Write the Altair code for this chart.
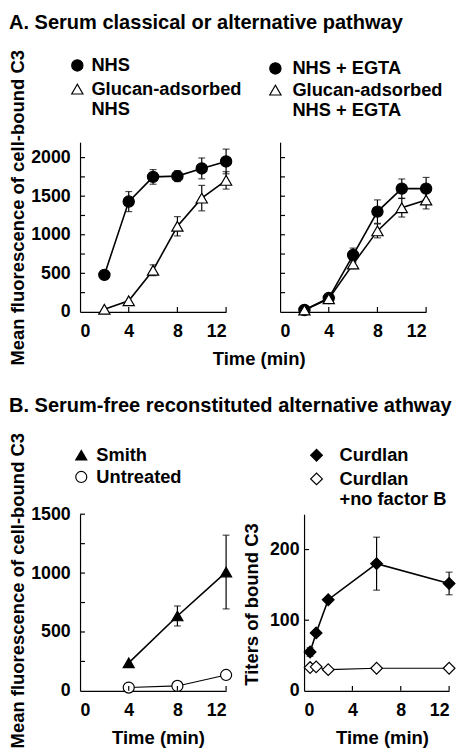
import altair as alt
import pandas as pd

FONT = "Liberation Sans"

# ---------------- data ----------------
# A. serum classical or alternative pathway
time_a = [2, 4, 6, 8, 10, 12]
nhs = [480, 1430, 1750, 1760, 1860, 1950]
nhs_err = [50, 130, 95, 70, 135, 160]
gad_nhs = [35, 145, 540, 1110, 1475, 1705]
gad_nhs_err = [0, 0, 70, 125, 165, 113]
nhs_egta = [25, 180, 737, 1300, 1598, 1598]
nhs_egta_err = [0, 25, 90, 152, 125, 145]
gad_egta = [25, 170, 620, 1050, 1350, 1450]
gad_egta_err = [0, 0, 60, 90, 120, 115]

# B. serum-free reconstituted alternative pathway
time_b = [4, 8, 12]
smith = [238, 636, 1009]
smith_err = [0, 85, 313]
untreated = [28, 42, 135]
untreated_err = [0, 0, 0]

time_c = [0.5, 1, 2, 6, 12]
curdlan = [55, 82, 129, 180, 152]
curdlan_err = [6, 0, 0, 37.5, 16]
curdlan_nofb = [33, 34, 30, 32, 32]
curdlan_nofb_err = [0, 0, 0, 0, 0]

names_a1 = ["NHS", "Glucan-adsorbed\nNHS"]
names_a2 = ["NHS + EGTA", "Glucan-adsorbed\nNHS + EGTA"]
names_b1 = ["Smith", "Untreated"]
names_b2 = ["Curdlan", "Curdlan\n+no factor B"]

time_ticks = [4, 8, 12]
time_labels = [0, 4, 8, 12]
a_yticks = [250, 500, 750, 1000, 1250, 1500, 1750, 2000]
a_ylabels = [0, 500, 1000, 1500, 2000]
b1_yticks = [250, 500, 750, 1000, 1250, 1500]
b1_ylabels = [0, 500, 1000, 1500]
b2_yticks = [100, 200]
b2_ylabels = [0, 100, 200]

YTITLE = "Mean fluorescence of cell-bound C3"


def frame(times, series):
    rows = []
    for name, vals, errs in series:
        for t, v, e in zip(times, vals, errs):
            rows.append(dict(time=t, value=v, err=e, lo=v - e, hi=v + e, series=name))
    return pd.DataFrame(rows)


def panel(df, names, shapes, fills, widths, ydom, ylabels, yticks, width, height,
          legend_x, legend_y, label_offset, row_pad, sym_size,
          ytitle=None, ytitle_x=-63, ytitle_y=60, show_ylabels=True, ylabel_pad=10,
          xtitle=None, xtitle_x=74, xtitle_y=47):
    xs = alt.Scale(domain=[0, 12], nice=False, zero=False)
    ys = alt.Scale(domain=ydom, nice=False, zero=False)
    xkw = dict(values=time_labels, format="d", ticks=False, grid=False,
               labelPadding=20, labelBaseline="middle", title=xtitle)
    if xtitle:
        xkw.update(titleX=xtitle_x, titleY=xtitle_y, titleAlign="center",
                   titleBaseline="middle")
    xaxis = alt.Axis(**xkw)
    ykw = dict(values=ylabels, format="d", ticks=False, grid=False,
               labels=show_ylabels, labelPadding=ylabel_pad, title=ytitle)
    if ytitle:
        ykw.update(titleX=ytitle_x, titleY=ytitle_y, titleAngle=270,
                   titleAlign="center", titleBaseline="middle")
    yaxis = alt.Axis(**ykw)

    X = lambda f: alt.X(f, scale=xs, axis=xaxis)
    Y = lambda f: alt.Y(f, scale=ys, axis=yaxis)

    leg = alt.Legend(title=None, orient="none", legendX=legend_x, legendY=legend_y,
                     labelFont=FONT, labelFontSize=18.5, labelFontWeight="bold",
                     labelColor="black", labelOffset=label_offset, rowPadding=row_pad,
                     symbolSize=sym_size, symbolStrokeColor="black",
                     symbolStrokeWidth=1.2, symbolOpacity=1, labelLimit=400,
                     labelExpr="split(datum.label, '\\n')")

    base = alt.Chart(df)
    line_layers = []
    for nm, w in zip(names, widths):
        line_layers.append(
            base.transform_filter(alt.datum.series == nm).mark_line(
                color="black", strokeWidth=w).encode(x=X("time:Q"), y=Y("value:Q")))
    eb = base.transform_filter("datum.err > 0")
    rules = eb.mark_rule(color="black", strokeWidth=1.2).encode(
        x=X("time:Q"), y=Y("lo:Q"), y2="hi:Q")
    cap_lo = eb.mark_tick(orient="horizontal", size=7, thickness=1.2, color="black").encode(
        x=X("time:Q"), y=Y("lo:Q"))
    cap_hi = eb.mark_tick(orient="horizontal", size=7, thickness=1.2, color="black").encode(
        x=X("time:Q"), y=Y("hi:Q"))
    pts = base.mark_point(filled=True, size=sym_size, strokeWidth=1.2,
                          opacity=1, fillOpacity=1).encode(
        x=X("time:Q"), y=Y("value:Q"),
        shape=alt.Shape("series:N", scale=alt.Scale(domain=names, range=shapes), legend=leg),
        fill=alt.Fill("series:N", scale=alt.Scale(domain=names, range=fills), legend=leg),
        stroke=alt.Stroke("series:N", scale=alt.Scale(domain=names, range=["black", "black"]), legend=leg),
    )
    ytick = alt.Chart(pd.DataFrame({"tick": yticks})).mark_rule(
        color="black", strokeWidth=1.2).encode(
        y=Y("tick:Q"), x=alt.value(0), x2=alt.value(5))
    xtick = alt.Chart(pd.DataFrame({"tick": time_ticks})).mark_rule(
        color="black", strokeWidth=1.2).encode(
        x=X("tick:Q"), y=alt.value(height), y2=alt.value(height - 5))
    return alt.layer(*line_layers, rules, cap_lo, cap_hi, pts, ytick, xtick).properties(
        width=width, height=height)


df_a1 = frame(time_a, [(names_a1[0], nhs, nhs_err), (names_a1[1], gad_nhs, gad_nhs_err)])
df_a2 = frame(time_a, [(names_a2[0], nhs_egta, nhs_egta_err), (names_a2[1], gad_egta, gad_egta_err)])
df_b1 = frame(time_b, [(names_b1[0], smith, smith_err), (names_b1[1], untreated, untreated_err)])
df_b2 = frame(time_c, [(names_b2[0], curdlan, curdlan_err), (names_b2[1], curdlan_nofb, curdlan_nofb_err)])

HA = 172
HB = 179

a1 = panel(df_a1, names_a1, ["circle", "triangle-up"], ["black", "white"], [1.6, 1.6],
           [0, 2200], a_ylabels, a_yticks, 148, HA,
           legend_x=-12, legend_y=-87, label_offset=5, row_pad=5, sym_size=130,
           ytitle=YTITLE, ytitle_x=-63, ytitle_y=66)
a2 = panel(df_a2, names_a2, ["circle", "triangle-up"], ["black", "white"], [1.6, 1.6],
           [0, 2200], a_ylabels, a_yticks, 148, HA,
           legend_x=-14, legend_y=-84, label_offset=8, row_pad=3, sym_size=130,
           show_ylabels=False, xtitle="Time (min)", xtitle_x=-21.7, xtitle_y=47)
b1 = panel(df_b1, names_b1, ["triangle-up", "circle"], ["black", "white"], [1.6, 1.1],
           [0, 1500], b1_ylabels, b1_yticks, 148, HB,
           legend_x=-8, legend_y=-69, label_offset=6, row_pad=3, sym_size=125,
           ytitle=YTITLE, ytitle_x=-63, ytitle_y=77, xtitle="Time (min)", xtitle_x=79, xtitle_y=47)
b2 = panel(df_b2, names_b2, ["diamond", "diamond"], ["black", "white"], [1.6, 1.1],
           [0, 250], b2_ylabels, b2_yticks, 147, HB,
           legend_x=3.4, legend_y=-69, label_offset=14, row_pad=5, sym_size=140,
           ytitle="Titers of bound C3", ytitle_x=-53, ytitle_y=91, ylabel_pad=5,
           xtitle="Time (min)", xtitle_x=79, xtitle_y=47)


def resolved(c):
    return c.resolve_scale(x="independent", y="independent", shape="independent",
                           fill="independent", stroke="independent").resolve_legend(
        shape="independent", fill="independent", stroke="independent").resolve_axis(
        x="independent", y="independent")


def row_title(text, offset):
    return alt.TitleParams(text=text, anchor="start", font=FONT, fontSize=20.3,
                           fontWeight="bold", color="black", offset=offset,
                           baseline="alphabetic")


rowA = resolved(alt.hconcat(a1, a2, spacing=54.7, bounds="flush")).properties(
    title=row_title("A. Serum classical or alternative pathway", 0))
rowB = resolved(alt.hconcat(b1, b2, spacing=79, bounds="flush")).properties(
    title=row_title("B. Serum-free reconstituted alternative athway", 0))

chart = resolved(alt.vconcat(rowA, rowB, spacing=377, bounds="flush")).properties(
    padding={"left": 0, "top": 0, "right": 0, "bottom": 0}, background="white"
).configure_view(stroke=None).configure_axis(
    domainColor="black", domainWidth=1.2,
    labelFont=FONT, labelFontSize=18, labelFontWeight="bold", labelColor="black",
    titleFont=FONT, titleFontSize=18.7, titleFontWeight="bold", titleColor="black",
)

chart.save("out.html", embed_options={"renderer": "svg", "actions": False})
